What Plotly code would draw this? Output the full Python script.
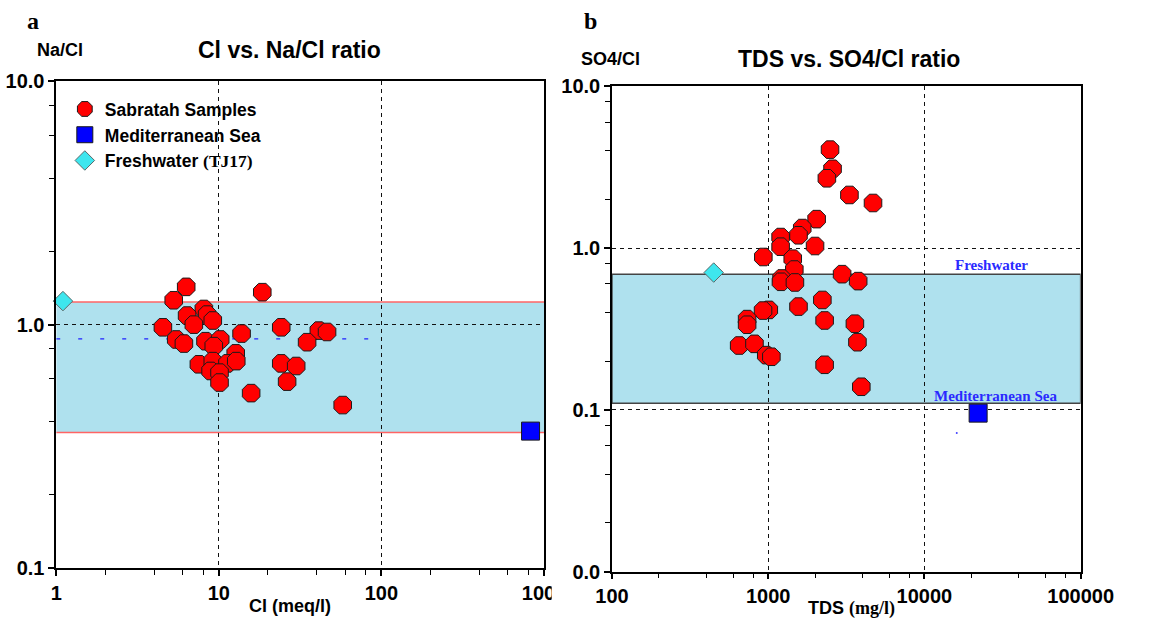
import math
import plotly.graph_objects as go

# ---------------- Panel a : Cl vs Na/Cl ----------------
cl_samples = [6.3, 5.28, 18.5, 8.09, 6.38, 8.47, 9.18, 7.02, 4.53, 24.2, 41.2, 46.3,
              5.47, 6.1, 8.28, 10.2, 9.31, 13.8, 34.9, 12.7, 7.54, 9.18, 11.3, 12.8,
              8.9, 10.1, 10.1, 24.2, 29.9, 26.3, 15.8, 57.8]
na_cl_samples = [1.43, 1.26, 1.36, 1.16, 1.09, 1.10, 1.04, 1.00, 0.975, 0.975, 0.945, 0.933,
                 0.869, 0.836, 0.855, 0.869, 0.816, 0.919, 0.847, 0.762, 0.687, 0.708, 0.693, 0.708,
                 0.645, 0.635, 0.578, 0.693, 0.676, 0.583, 0.523, 0.467]
cl_sea = [826]
na_cl_sea = [0.365]
cl_fresh = [1.1]
na_cl_fresh = [1.25]
na_cl_band = [0.36, 1.24]       # freshwater–seawater mixing band (red limits)
na_cl_blue_ref = 0.874          # faint blue dashed reference
cl_range = [1, 1000]
cl_blue_range = [1, 100]

cl_ticks = [1, 10, 100, 1000]
cl_ticklabels = ["1", "10", "100", "1000"]
cl_minor = [2, 4, 6, 8, 20, 40, 60, 80, 200, 400, 600, 800]
nacl_ticks = [0.1, 1, 10]
nacl_ticklabels = ["0.1", "1.0", "10.0"]
nacl_minor = [0.2, 0.4, 0.6, 0.8, 2, 4, 6, 8]

# ---------------- Panel b : TDS vs SO4/Cl ----------------
tds_samples = [2488, 2582, 2375, 3311, 4688, 2042, 1652, 1563, 1201, 1201, 1995, 931,
               1436, 1470, 1218, 1207, 1483, 2972, 3767, 2222, 1563, 1009, 927, 733,
               733, 2297, 3589, 3726, 652, 817, 972, 1048, 2297, 3945]
so4_cl_samples = [4.06, 3.09, 2.70, 2.13, 1.90, 1.51, 1.33, 1.20, 1.17, 1.02, 1.03, 0.881,
                  0.860, 0.737, 0.649, 0.619, 0.613, 0.690, 0.625, 0.478, 0.435, 0.415, 0.411, 0.364,
                  0.336, 0.357, 0.341, 0.262, 0.250, 0.256, 0.218, 0.213, 0.190, 0.139]
tds_sea = [22070]
so4_cl_sea = [0.0955]
tds_fresh = [448]
so4_cl_fresh = [0.706]
tds_dot = [16100]
so4_cl_dot = [0.072]
so4_cl_band = [0.11, 0.69]
tds_band = [100, 100000]
fresh_label_pos = [27000, 0.79]
sea_label_pos = [28500, 0.122]

tds_ticks = [100, 1000, 10000, 100000]
tds_ticklabels = ["100", "1000", "10000", "100000"]
tds_minor = [200, 400, 600, 800, 2000, 4000, 6000, 8000, 20000, 40000, 60000, 80000]
so4_ticks = [0.01, 0.1, 1, 10]
so4_ticklabels = ["0.0", "0.1", "1.0", "10.0"]
so4_minor = [0.02, 0.04, 0.06, 0.08, 0.2, 0.4, 0.6, 0.8, 2, 4, 6, 8]

W, H = 1150, 630
SANS = "Liberation Sans, Arial, sans-serif"
SERIF = "Liberation Serif, Times New Roman, serif"
RED = "#ff0000"
BLUE = "#0000ff"
CYAN = "#3ee6ee"
BAND = "#afe1ee"
LIMIT = "#ff6464"

fig = go.Figure()

mk_circle = dict(symbol="octagon", size=19, color=RED, line=dict(color="#1a1a1a", width=1))
mk_square = dict(symbol="square", size=18, color=BLUE, line=dict(color="#1a1a1a", width=1))
mk_diam = dict(symbol="diamond", size=15, color=CYAN, line=dict(color="#5a6a6a", width=1))

# panel a traces
fig.add_trace(go.Scatter(x=cl_samples, y=na_cl_samples, mode="markers", marker=mk_circle,
                         name="Sabratah Samples", legendgroup="g1", xaxis="x", yaxis="y"))
fig.add_trace(go.Scatter(x=cl_sea, y=na_cl_sea, mode="markers", marker=mk_square,
                         name="Mediterranean Sea", legendgroup="g2", xaxis="x", yaxis="y",
                         cliponaxis=False))
fig.add_trace(go.Scatter(x=cl_fresh, y=na_cl_fresh, mode="markers", marker=mk_diam,
                         name="Freshwater <span style='font-family:Liberation Serif'>(TJ17)</span>",
                         legendgroup="g3", xaxis="x", yaxis="y", cliponaxis=False))

# panel b traces
fig.add_trace(go.Scatter(x=tds_samples, y=so4_cl_samples, mode="markers", marker=mk_circle,
                         showlegend=False, xaxis="x2", yaxis="y2"))
fig.add_trace(go.Scatter(x=tds_sea, y=so4_cl_sea, mode="markers", marker=mk_square,
                         showlegend=False, xaxis="x2", yaxis="y2"))
fig.add_trace(go.Scatter(x=tds_fresh, y=so4_cl_fresh, mode="markers", marker=mk_diam,
                         showlegend=False, xaxis="x2", yaxis="y2"))
fig.add_trace(go.Scatter(x=tds_dot, y=so4_cl_dot, mode="markers",
                         marker=dict(size=2, color="#4040ff"),
                         showlegend=False, xaxis="x2", yaxis="y2"))

# shapes (below grid)
shapes = [
    dict(type="rect", xref="x", yref="y", x0=cl_range[0], x1=cl_range[1],
         y0=na_cl_band[0], y1=na_cl_band[1], fillcolor=BAND, line=dict(width=0), layer="below"),
    dict(type="line", xref="x", yref="y", x0=cl_range[0], x1=cl_range[1],
         y0=na_cl_band[1], y1=na_cl_band[1], line=dict(color=LIMIT, width=1.5), layer="below"),
    dict(type="line", xref="x", yref="y", x0=cl_range[0], x1=cl_range[1],
         y0=na_cl_band[0], y1=na_cl_band[0], line=dict(color=LIMIT, width=1.5), layer="below"),
    dict(type="line", xref="x", yref="y", x0=cl_blue_range[0], x1=cl_blue_range[1],
         y0=na_cl_blue_ref, y1=na_cl_blue_ref,
         line=dict(color="#2020ff", width=1.3, dash="4px,18px"), layer="below"),
    dict(type="rect", xref="x2", yref="y2", x0=tds_band[0], x1=tds_band[1],
         y0=so4_cl_band[0], y1=so4_cl_band[1], fillcolor=BAND,
         line=dict(color="#444444", width=1.5), layer="below"),
    # crop of the last tick label of panel a (as in the source figure)
    dict(type="rect", xref="paper", yref="paper", x0=559 / W, x1=577 / W,
         y0=1 - 612 / H, y1=1 - 586 / H, fillcolor="#ffffff", line=dict(width=0), layer="above"),
]

tickfont = dict(family=SANS, size=20, color="#000000", weight="bold")


def axis(domain, rng, tickvals, ticktext, minor_vals, anchor):
    return dict(type="log", domain=domain, range=[math.log10(rng[0]), math.log10(rng[1])],
                anchor=anchor, showline=True, linecolor="#000000", linewidth=1.5, mirror=True,
                ticks="outside", ticklen=6, tickwidth=1.5, tickcolor="#000000",
                tickvals=tickvals, ticktext=ticktext, tickfont=tickfont,
                showgrid=True, gridcolor="#111111", gridwidth=1.3, griddash="4px,4px",
                zeroline=False,
                minor=dict(tickvals=minor_vals, ticks="outside", ticklen=5, tickwidth=1.2,
                           tickcolor="#000000", showgrid=False))


fig.update_layout(
    width=W, height=H, margin=dict(l=0, r=0, t=0, b=0),
    paper_bgcolor="#ffffff", plot_bgcolor="#ffffff",
    xaxis=axis([41 / W, 551 / W], cl_range, cl_ticks, cl_ticklabels, cl_minor, "y"),
    yaxis=axis([1 - 577 / H, 1 - 73 / H], [0.1, 10], nacl_ticks, nacl_ticklabels, nacl_minor, "x"),
    xaxis2=axis([622 / W, 1112 / W], tds_band, tds_ticks, tds_ticklabels, tds_minor, "y2"),
    yaxis2=axis([1 - 581 / H, 1 - 78 / H], [0.01, 10], so4_ticks, so4_ticklabels, so4_minor, "x2"),
    shapes=shapes,
    showlegend=True,
    legend=dict(x=50 / W, y=1 - 83 / H, xanchor="left", yanchor="top",
                bgcolor="rgba(0,0,0,0)", borderwidth=0, traceorder="grouped",
                tracegroupgap=0, itemsizing="trace",
                font=dict(family=SANS, size=17.5, color="#000000", weight="bold")),
)


def ann(text, px, py, size, family=SANS, color="#000000", xanchor="center"):
    return dict(text=text, x=px / W, y=1 - py / H, xref="paper", yref="paper",
                xanchor=xanchor, yanchor="middle", showarrow=False,
                font=dict(family=family, size=size, color=color))


annotations = [
    ann("<b>a</b>", 8, 10, 24, SERIF, xanchor="left"),
    ann("<b>b</b>", 591, 10, 24, SERIF, xanchor="left"),
    ann("<b>Na/Cl</b>", 45, 40, 18),
    ann("<b>Cl vs. Na/Cl ratio</b>", 285, 40, 23),
    ann("<b>SO4/Cl</b>", 620, 50, 18),
    ann("<b>TDS vs. SO4/Cl ratio</b>", 870, 50, 23),
    ann("<b>Cl (meq/l)</b>", 285, 617, 18),
    ann("<b>TDS</b> <b><span style='font-family:Liberation Serif'>(mg/l)</span></b>", 872, 619, 18),
    dict(text="<b>Freshwater</b>", x=math.log10(fresh_label_pos[0]), y=math.log10(fresh_label_pos[1]),
         xref="x2", yref="y2", showarrow=False, xanchor="center", yanchor="middle",
         font=dict(family=SERIF, size=15, color="#2a2aff")),
    dict(text="<b>Mediterranean Sea</b>", x=math.log10(sea_label_pos[0]), y=math.log10(sea_label_pos[1]),
         xref="x2", yref="y2", showarrow=False, xanchor="center", yanchor="middle",
         font=dict(family=SERIF, size=15, color="#2a2aff")),
]
fig.update_layout(annotations=annotations)

fig.write_html("out.html")
